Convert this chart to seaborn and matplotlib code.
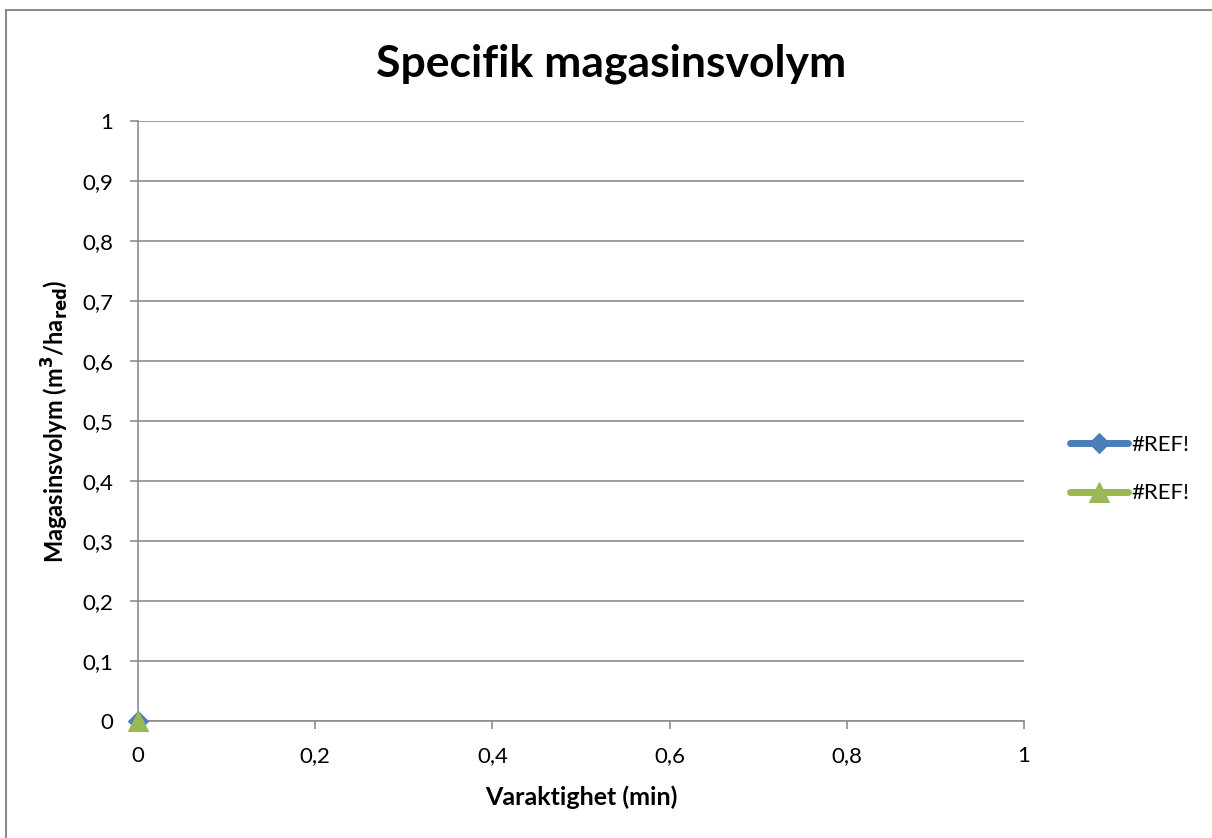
import numpy as np
import pandas as pd
import matplotlib
matplotlib.use("Agg")
import matplotlib.pyplot as plt
import seaborn as sns
from matplotlib.patches import Rectangle
from matplotlib.ticker import FuncFormatter

# data: both series only have a single point at (0, 0)
series_names = ['#REF!', '#REF!']
varaktighet = [0]
serie1 = [0]
serie2 = [0]
x_ticks = [0, 0.2, 0.4, 0.6, 0.8, 1]
y_ticks = [0, 0.1, 0.2, 0.3, 0.4, 0.5, 0.6, 0.7, 0.8, 0.9, 1]

df = pd.concat([
    pd.DataFrame({'x': varaktighet, 'y': serie1, 'serie': 's1'}),
    pd.DataFrame({'x': varaktighet, 'y': serie2, 'serie': 's2'}),
])

sns.set_style("white")
plt.rcParams['font.family'] = ['Lato', 'DejaVu Sans']
plt.rcParams['text.color'] = 'black'
plt.rcParams['axes.labelcolor'] = 'black'

fig = plt.figure(figsize=(12.12, 8.38), dpi=100)
ax = fig.add_axes([138 / 1212, 1 - 721 / 838, (1024 - 138) / 1212, (721 - 121) / 838])

# outer chart border
fig.patches.append(Rectangle((6 / 1212, -0.05), 1.1, 1 - 10 / 838 + 0.05,
                             transform=fig.transFigure, fill=False,
                             edgecolor='#8c8c8c', linewidth=1.5, zorder=0))

colors = {'s1': '#4a7ebb', 's2': '#98b954'}
markers = {'s1': 'D', 's2': '^'}
for key, lab in zip(['s1', 's2'], series_names):
    sub = df[df['serie'] == key]
    sns.lineplot(data=sub, x='x', y='y', ax=ax, color=colors[key], marker=markers[key],
                 markersize=10 if key == 's1' else 15, linewidth=5, label=lab,
                 markeredgecolor=colors[key], clip_on=False, zorder=5)

ax.set_xlim(0, 1)
ax.set_ylim(0, 1)
ax.set_xticks(x_ticks)
ax.set_yticks(y_ticks)
fmt = FuncFormatter(lambda v, p: ('%g' % round(v, 1)).replace('.', ','))
ax.xaxis.set_major_formatter(fmt)
ax.yaxis.set_major_formatter(fmt)

ax.grid(axis='y', color='#8c8c8c', linewidth=1.2)
ax.grid(axis='x', visible=False)
for s in ['top', 'right']:
    ax.spines[s].set_visible(False)
for s in ['left', 'bottom']:
    ax.spines[s].set_color('#8c8c8c')
    ax.spines[s].set_linewidth(1.2)
ax.tick_params(axis='both', which='major', direction='out', length=6, width=1.2,
               color='#8c8c8c', labelsize=16, labelcolor='black')
ax.tick_params(axis='x', bottom=True, pad=12)
ax.tick_params(axis='y', left=True, pad=12)

ax.set_title('Specifik magasinsvolym', fontsize=32, fontweight='bold', pad=32,
             x=(611 - 138) / 886)
ax.set_xlabel('Varaktighet (min)', fontsize=18, fontweight='bold', labelpad=14)
ax.set_ylabel(r'Magasinsvolym (m$^{\mathbf{3}}$/ha$_{\mathbf{red}}$)', fontsize=17,
              fontweight='bold', labelpad=8)

leg = ax.legend(loc='center left', bbox_to_anchor=((1070 - 138) / 886, 0.42), frameon=False,
                fontsize=16, handlelength=2.6, handletextpad=0.15, labelspacing=1.3,
                borderaxespad=0, borderpad=0)

fig.savefig('out.png', dpi=100)
